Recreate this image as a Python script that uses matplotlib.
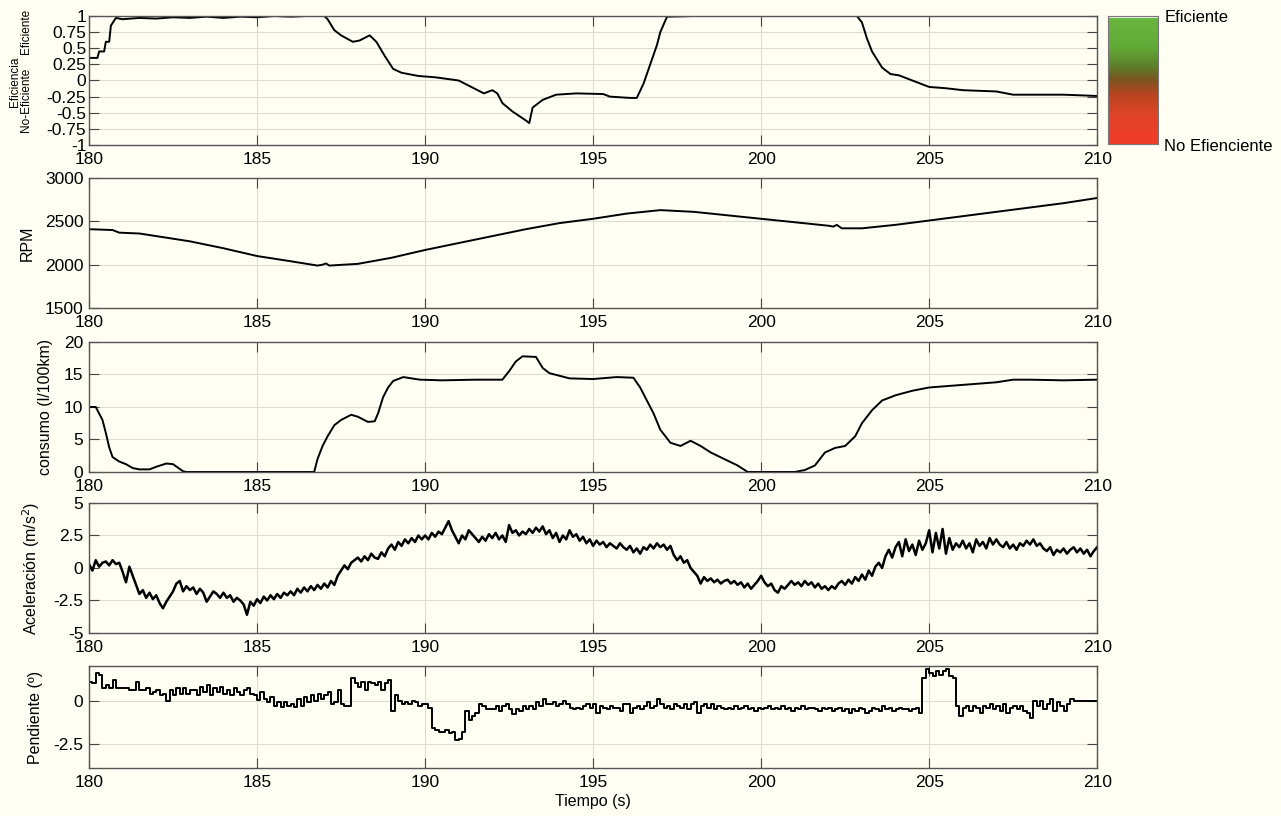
import numpy as np
import matplotlib
matplotlib.use("Agg")
import matplotlib.pyplot as plt
from matplotlib.colors import LinearSegmentedColormap

plt.rcParams['font.family'] = ['Liberation Sans', 'DejaVu Sans']

BG = "#FFFEF2"

# ---- data ----
eff_t = [180, 180.25, 180.3, 180.45, 180.5, 180.6, 180.65, 180.8, 181, 181.5,
         182, 182.5, 183, 183.5, 184, 184.5, 185, 185.5, 186, 186.5,
         187, 187.1, 187.3, 187.5, 187.85, 188.05, 188.35, 188.55, 188.8, 189.05,
         189.3, 189.8, 190.3, 191, 191.75, 192.0, 192.15, 192.3, 192.6, 193.0,
         193.1, 193.2, 193.5, 193.9, 194.5, 195.3, 195.5, 196.1, 196.3, 196.5,
         196.7, 196.9, 197.0, 197.2, 198, 199, 200, 201, 202, 202.85,
         203.0, 203.15, 203.3, 203.6, 203.85, 204.1, 204.5, 205, 205.5, 206,
         206.5, 207, 207.5, 208, 209, 210]
eff_v = [0.35, 0.35, 0.45, 0.45, 0.6, 0.6, 0.85, 0.97, 0.95, 0.97,
         0.96, 0.98, 0.97, 0.99, 0.97, 0.99, 0.98, 1.0, 0.99, 1.0,
         1.0, 0.95, 0.78, 0.7, 0.6, 0.62, 0.70, 0.6, 0.38, 0.18,
         0.12, 0.07, 0.05, 0.0, -0.2, -0.15, -0.2, -0.35, -0.48, -0.62,
         -0.66, -0.42, -0.3, -0.22, -0.2, -0.21, -0.25, -0.27, -0.27, -0.05,
         0.25, 0.55, 0.75, 0.99, 1.0, 1.0, 1.0, 1.0, 1.0, 1.0,
         0.9, 0.65, 0.45, 0.2, 0.1, 0.08, 0.0, -0.1, -0.12, -0.15,
         -0.16, -0.17, -0.22, -0.22, -0.22, -0.24]

rpm_t = [180, 180.7, 180.9, 181.5, 182, 183, 184, 185, 186, 186.8,
         186.95, 187.05, 187.15, 188, 189, 190, 191, 192, 193, 194,
         195, 196, 197, 198, 199, 200, 201, 202, 202.15, 202.25,
         202.4, 203, 204, 205, 206, 207, 208, 209, 210]
rpm_v = [2410, 2400, 2370, 2360, 2330, 2270, 2190, 2100, 2040, 1990,
         2000, 2015, 1990, 2010, 2080, 2170, 2250, 2330, 2410, 2480,
         2530, 2590, 2630, 2610, 2570, 2530, 2490, 2450, 2440, 2460,
         2420, 2420, 2460, 2510, 2560, 2610, 2660, 2710, 2770]

cons_t = [180, 180.2, 180.3, 180.4, 180.5, 180.6, 180.7, 180.9, 181.1, 181.3,
          181.5, 181.8, 182.0, 182.3, 182.5, 182.8, 182.9, 186.7, 186.8, 186.95,
          187.1, 187.3, 187.5, 187.8, 188.0, 188.3, 188.5, 188.6, 188.75, 188.9,
          189.05, 189.35, 189.85, 190.5, 191.5, 192.3, 192.5, 192.7, 192.9, 193.3,
          193.5, 193.7, 194.3, 195.0, 195.7, 196.2, 196.4, 196.6, 196.8, 197.0,
          197.3, 197.6, 197.9, 198.2, 198.5, 198.9, 199.3, 199.6, 201.0, 201.3,
          201.6, 201.9, 202.2, 202.5, 202.8, 203.0, 203.3, 203.6, 204.0, 204.5,
          205.0, 205.5, 206.0, 206.5, 207.0, 207.5, 208, 209, 210]
cons_v = [10, 10, 9, 8, 6, 3.8, 2.3, 1.6, 1.2, 0.6,
          0.4, 0.4, 0.8, 1.3, 1.2, 0.1, 0, 0, 2.0, 4,
          5.5, 7.2, 8.0, 8.8, 8.5, 7.7, 7.8, 9.0, 11.5, 13,
          14.0, 14.6, 14.2, 14.1, 14.2, 14.2, 15.5, 17.0, 17.8, 17.7,
          16.0, 15.2, 14.4, 14.3, 14.6, 14.5, 13.0, 11.0, 9.0, 6.5,
          4.5, 4.0, 4.8, 4.0, 3.0, 2.0, 1.0, 0.0, 0.0, 0.3,
          1.0, 3.0, 3.7, 4.0, 5.5, 7.5, 9.5, 11.0, 11.8, 12.5,
          13.0, 13.2, 13.4, 13.6, 13.8, 14.2, 14.2, 14.1, 14.2]

# acceleration, one value every 0.1 s from 180.0 to 210.0
acc_v = [
    0.3, -0.2, 0.6, 0.1, 0.4, 0.5, 0.2, 0.6, 0.3, 0.4,
    -0.3, -1.1, 0.1, -0.6, -1.3, -2.0, -1.7, -2.3, -1.9, -2.4,
    -2.1, -2.7, -3.1, -2.6, -2.2, -1.8, -1.2, -1.0, -1.8, -1.4,
    -1.7, -1.5, -2.0, -1.6, -1.9, -2.6, -2.2, -1.8, -2.0, -2.3,
    -1.9, -2.3, -2.1, -2.6, -2.3, -2.5, -2.8, -3.6, -2.6, -2.9,
    -2.4, -2.7, -2.2, -2.5, -2.1, -2.4, -2.0, -2.3, -1.9, -2.1,
    -1.8, -2.1, -1.6, -1.9, -1.5, -1.8, -1.4, -1.7, -1.3, -1.6,
    -1.2, -1.5, -1.0, -1.3, -0.6, -0.2, 0.2, -0.1, 0.4, 0.6,
    0.8, 0.5, 0.9, 0.6, 1.1, 0.8, 0.7, 1.2, 0.9, 1.5,
    1.8, 1.4, 2.0, 1.7, 2.2, 1.9, 2.3, 2.0, 2.5, 2.2,
    2.5, 2.2, 2.7, 2.4, 2.8, 2.6, 3.1, 3.6, 2.9, 2.4,
    1.9, 2.5, 2.2, 2.9, 2.6, 2.3, 2.0, 2.4, 2.1, 2.6,
    2.3, 2.7, 2.2, 2.5, 2.0, 3.3, 2.7, 2.9, 2.5, 2.8,
    2.6, 3.0, 2.7, 3.1, 2.8, 3.2, 2.6, 2.9, 2.3, 2.7,
    2.0, 2.5, 2.2, 2.9, 2.4, 2.6, 2.1, 2.4, 1.9, 2.2,
    1.7, 2.1, 1.8, 2.0, 1.6, 1.9, 1.7, 1.5, 1.9, 1.6,
    1.4, 1.7, 1.2, 1.5, 1.1, 1.6, 1.4, 1.8, 1.5, 1.9,
    1.6, 1.8, 1.4, 1.7, 1.0, 0.6, 0.9, 0.4, 0.6, 0.0,
    -0.3, -0.6, -1.2, -0.7, -1.0, -0.8, -1.1, -0.9, -1.2, -1.0,
    -0.9, -1.2, -1.0, -1.3, -1.1, -1.5, -1.2, -1.6, -1.3, -1.0,
    -0.6, -1.1, -1.4, -1.2, -1.7, -1.9, -1.4, -1.6, -1.3, -1.0,
    -1.3, -1.1, -1.4, -1.0, -1.3, -1.1, -1.5, -1.2, -1.6, -1.4,
    -1.7, -1.4, -1.6, -1.2, -1.0, -1.3, -0.9, -1.2, -0.7, -1.0,
    -0.5, -0.9, -0.2, -0.6, 0.1, 0.4, 0.0, 0.9, 1.4, 0.8,
    1.6, 2.0, 0.9, 2.2, 1.3, 1.8, 1.0, 2.1, 1.4, 1.9,
    2.9, 1.2, 2.7, 1.5, 3.0, 1.1, 2.3, 1.4, 1.9, 1.6,
    2.1, 1.5, 1.9, 1.2, 2.2, 1.7, 2.0, 1.5, 2.3, 1.8,
    2.2, 1.8, 1.6, 2.0, 1.5, 1.8, 1.4, 1.9, 1.7, 2.1,
    1.8, 2.2, 1.7, 1.9, 1.5, 1.3, 1.6, 1.0, 1.4, 1.2,
    1.5, 1.1, 1.4, 1.6, 1.2, 1.5, 1.1, 1.4, 0.9, 1.3,
    1.6]

# slope, one value every 0.1 s from 180.0 to 210.0 (held constant)
pend_v = [
    1.1, 1.0, 1.6, 1.5, 0.7, 0.9, 0.7, 1.2, 0.7, 0.7,
    0.7, 0.7, 0.6, 0.6, 1.1, 0.6, 0.6, 0.7, 0.4, 0.5,
    0.6, 0.3, 0.4, 0.0, 0.6, 0.3, 0.7, 0.4, 0.7, 0.4,
    0.6, 0.6, 0.3, 0.8, 0.5, 0.9, 0.3, 0.7, 0.5, 0.8,
    0.4, 0.6, 0.3, 0.7, 0.5, 0.3, 0.6, 0.7, 0.4, 0.3,
    0.05, 0.5, 0.1, -0.1, 0.2, -0.3, -0.1, -0.35, -0.1, -0.3,
    -0.2, -0.35, 0.1, -0.3, 0.2, -0.1, 0.3, 0.0, 0.4, 0.1,
    0.3, 0.5, -0.2, -0.1, 0.6, -0.2, -0.3, -0.3, 1.3, 1.0,
    0.8, 1.1, 0.6, 1.1, 1.0, 0.9, 1.1, 0.6, 1.0, 1.2,
    -0.6, 0.3, 0.0, -0.2, -0.1, -0.2, 0.0, -0.1, -0.3, -0.2,
    -0.2, -0.4, -1.6, -1.7, -1.8, -1.8, -1.7, -1.9, -1.8, -2.3,
    -2.2, -1.8, -0.6, -1.1, -0.9, -0.7, -0.2, -0.3, -0.5, -0.5,
    -0.5, -0.3, -0.6, -0.3, -0.2, -0.5, -0.8, -0.5, -0.6, -0.3,
    -0.5, -0.3, -0.5, -0.1, -0.3, 0.1, -0.2, -0.2, -0.1, -0.3,
    -0.2, 0.0, -0.2, -0.4, -0.5, -0.4, -0.5, -0.3, -0.2, -0.4,
    -0.2, -0.7, -0.3, -0.4, -0.5, -0.3, -0.4, -0.4, -0.6, -0.2,
    -0.2, -0.7, -0.4, -0.3, -0.5, -0.3, -0.1, -0.4, -0.3, 0.1,
    -0.2, -0.4, -0.3, -0.5, -0.2, -0.3, -0.4, -0.2, -0.5, -0.2,
    -0.1, -0.7, -0.3, -0.2, -0.4, -0.2, -0.5, -0.3, -0.4, -0.5,
    -0.4, -0.5, -0.3, -0.5, -0.4, -0.3, -0.5, -0.4, -0.6, -0.4,
    -0.5, -0.4, -0.3, -0.5, -0.4, -0.5, -0.3, -0.5, -0.4, -0.6,
    -0.4, -0.5, -0.3, -0.5, -0.45, -0.4, -0.5, -0.6, -0.4, -0.5,
    -0.4, -0.6, -0.5, -0.4, -0.6, -0.5, -0.7, -0.5, -0.6, -0.4,
    -0.5, -0.7, -0.6, -0.4, -0.5, -0.6, -0.3, -0.5, -0.4, -0.6,
    -0.5, -0.4, -0.5, -0.5, -0.6, -0.5, -0.4, -0.7, 1.3, 1.8,
    1.6, 1.4, 1.7, 1.5, 1.7, 1.8, 1.4, 1.3, -0.3, -0.9,
    -0.4, -0.3, -0.6, -0.3, -0.4, -0.7, -0.3, -0.4, -0.2, -0.5,
    -0.3, -0.6, -0.2, -0.7, -0.4, -0.3, -0.5, -0.3, -0.6, -0.7,
    -1.0, 0.0, -0.3, 0.0, -0.5, -0.2, 0.1, -0.6, -0.1, -0.3,
    -0.6, -0.2, 0.1, 0.0, 0.0, 0.0, 0.0, 0.0, 0.0, 0.0,
    0.0]

t01 = np.linspace(180, 210, len(acc_v))
xticks = [180, 185, 190, 195, 200, 205, 210]

fig = plt.figure(figsize=(12.81, 8.16), dpi=100, facecolor=BG)

L, W = 0.0695, 0.787
boxes = [
    [L, 0.8223, W, 0.1581],
    [L, 0.6225, W, 0.1593],
    [L, 0.4216, W, 0.1593],
    [L, 0.2243, W, 0.1593],
    [L, 0.0588, W, 0.1250],
]
axes = [fig.add_axes(b) for b in boxes]


def style(ax, ylim, yticks, ylabels=None):
    ax.set_facecolor(BG)
    ax.set_xlim(180, 210)
    ax.set_ylim(*ylim)
    ax.set_xticks(xticks)
    ax.set_yticks(yticks)
    if ylabels is not None:
        ax.set_yticklabels(ylabels)
    ax.grid(True, color="#DCDCD2", linewidth=0.8)
    ax.set_axisbelow(True)
    ax.tick_params(direction="in", length=7, width=0.8, color="#444444",
                   top=True, right=True, labelsize=12.5, pad=4)
    ax.tick_params(axis="x", pad=5)
    for s in ax.spines.values():
        s.set_color("#555555")
        s.set_linewidth(1.0)


lw = 1.4
ax = axes[0]
ax.plot(eff_t, eff_v, color="black", lw=lw)
style(ax, (-1, 1), [-1, -0.75, -0.5, -0.25, 0, 0.25, 0.5, 0.75, 1],
      ["-1", "-0.75", "-0.5", "-0.25", "0", "0.25", "0.5", "0.75", "1"])
ax.tick_params(axis="y", pad=2)
fig.text(0.0115, 0.8995, "Eficiencia", rotation=90, ha="center", va="center", fontsize=8.5)
fig.text(0.0200, 0.961, "Eficiente", rotation=90, ha="center", va="center", fontsize=8.5)
fig.text(0.0200, 0.878, "No-Eficiente", rotation=90, ha="center", va="center", fontsize=8.5)

ax = axes[1]
ax.plot(rpm_t, rpm_v, color="black", lw=lw)
style(ax, (1500, 3000), [1500, 2000, 2500, 3000])
ax.set_ylabel("RPM", fontsize=11.5)
ax.yaxis.set_label_coords(-0.0536, 0.5)

ax = axes[2]
ax.plot(cons_t, cons_v, color="black", lw=lw)
style(ax, (0, 20), [0, 5, 10, 15, 20])
ax.set_ylabel("consumo (l/100km)", fontsize=11.5)
ax.yaxis.set_label_coords(-0.0357, 0.5)

ax = axes[3]
ax.plot(t01, acc_v, color="black", lw=1.8)
style(ax, (-5, 5), [-5, -2.5, 0, 2.5, 5], ["-5", "-2.5", "0", "2.5", "5"])
ax.set_ylabel("Aceleración (m/s$^2$)", fontsize=11.5)
ax.yaxis.set_label_coords(-0.0466, 0.5)

ax = axes[4]
ax.plot(t01, pend_v, color="black", lw=lw, drawstyle="steps-post")
style(ax, (-3.9, 2.0), [-2.5, 0], ["-2.5", "0"])
ax.set_ylabel("Pendiente (º)", fontsize=11.5)
ax.yaxis.set_label_coords(-0.0456, 0.5)
ax.set_xlabel("Tiempo (s)", fontsize=11.5, labelpad=3)

# color bar at the top right
cmap = LinearSegmentedColormap.from_list(
    "efi", [(0.0, "#F23C2A"), (0.22, "#E04428"), (0.38, "#B8451F"),
            (0.5, "#7A5520"), (0.6, "#5E7E2A"), (0.75, "#62AA38"),
            (1.0, "#68B840")])
cax = fig.add_axes([0.865, 0.8235, 0.039, 0.157])
cax.imshow(np.linspace(0, 1, 256).reshape(-1, 1), aspect="auto", cmap=cmap,
           origin="lower", extent=[0, 1, 0, 1])
cax.axhline(0.995, color="#E8EEE0", lw=1.5)
cax.set_xticks([])
cax.set_yticks([])
for s in cax.spines.values():
    s.set_color("#777777")
    s.set_linewidth(0.8)
fig.text(0.909, 0.979, "Eficiente", ha="left", va="center", fontsize=12)
fig.text(0.909, 0.821, "No Efienciente", ha="left", va="center", fontsize=12)

fig.savefig("out.png", dpi=100, facecolor=BG)
